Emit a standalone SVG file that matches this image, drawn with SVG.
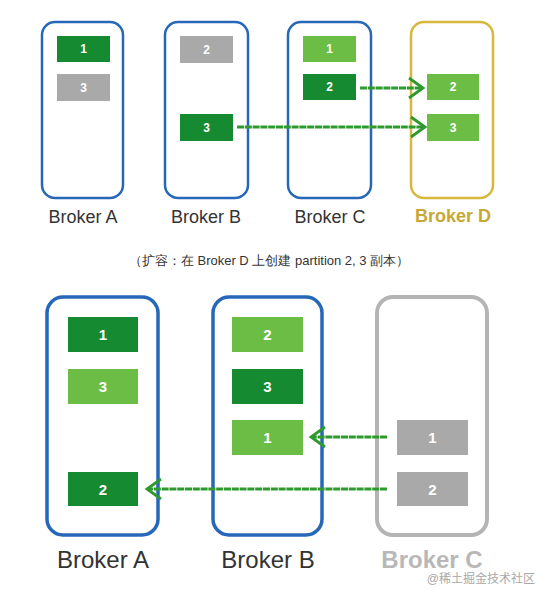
<svg xmlns="http://www.w3.org/2000/svg" width="551" height="597" viewBox="0 0 551 597">
<style>
.box{fill:#fff;stroke:#2767b8;stroke-width:2.5}
.boxL{fill:#fff;stroke:#2767b8;stroke-width:3.5}
.dk{fill:#168a30}
.lt{fill:#6cbd45}
.gr{fill:#a9a9a9}
.n{font-family:"Liberation Sans",Arial,sans-serif;font-weight:bold;fill:#fff;text-anchor:middle}
.s{font-size:12px}
.b{font-size:15px}
.lab{font-family:"Liberation Sans",Arial,sans-serif;text-anchor:middle;fill:#333}
.arr{fill:none;stroke:#2e9a2e;stroke-width:2.8;stroke-dasharray:7 0.8}
</style>
<defs>
<marker id="ah" markerUnits="userSpaceOnUse" markerWidth="24" markerHeight="24" refX="17" refY="12" orient="auto">
<path d="M3,2 L17,12 L3,22" fill="none" stroke="#2e9a2e" stroke-width="2.8"/>
</marker>
</defs>
<rect width="551" height="597" fill="#fff"/>
<g id="brokerA-top">
<rect class="box" x="42" y="22" width="81" height="176" rx="13"/>
<rect class="dk" x="57" y="36" width="53" height="26"/><text class="n s" x="83.5" y="53">1</text>
<rect class="gr" x="57" y="74" width="53" height="27"/><text class="n s" x="83.5" y="92">3</text>
<text class="lab" x="83" y="223" font-size="18">Broker A</text>
</g>
<g id="brokerB-top">
<rect class="box" x="165" y="22" width="83" height="176" rx="13"/>
<rect class="gr" x="180" y="36" width="53" height="27"/><text class="n s" x="206.5" y="54">2</text>
<rect class="dk" x="180" y="114" width="53" height="27"/><text class="n s" x="206.5" y="132">3</text>
<text class="lab" x="206" y="223" font-size="18">Broker B</text>
</g>
<g id="brokerC-top">
<rect class="box" x="288" y="22" width="83" height="176" rx="13"/>
<rect class="lt" x="303" y="36" width="53" height="26"/><text class="n s" x="329.5" y="53">1</text>
<rect class="dk" x="303" y="74" width="53" height="26"/><text class="n s" x="329.5" y="91">2</text>
<text class="lab" x="330" y="223" font-size="18">Broker C</text>
</g>
<g id="brokerD-top">
<rect x="411" y="22" width="82" height="176" rx="13" fill="#fff" stroke="#d6b93c" stroke-width="2.5"/>
<rect class="lt" x="427" y="74" width="52" height="26"/><text class="n s" x="453" y="91">2</text>
<rect class="lt" x="427" y="114" width="52" height="27"/><text class="n s" x="453" y="132">3</text>
<text class="lab" x="453" y="222" font-size="18" font-weight="bold" style="fill:#c8a834">Broker D</text>
</g>
<g id="caption">
<text class="lab" x="269" y="265" font-size="13" font-family="'Liberation Sans','Noto Sans CJK SC',sans-serif">（扩容：在 Broker D 上创建 partition 2, 3 副本）</text>
</g>
<g id="brokerA-bottom">
<rect class="boxL" x="47" y="297" width="111" height="238" rx="16"/>
<rect class="dk" x="68" y="317" width="70" height="35"/><text class="n b" x="103" y="340">1</text>
<rect class="lt" x="68" y="369" width="70" height="35"/><text class="n b" x="103" y="392">3</text>
<rect class="dk" x="68" y="472" width="70" height="34"/><text class="n b" x="103" y="495">2</text>
<text class="lab" x="103" y="568" font-size="24">Broker A</text>
</g>
<g id="brokerB-bottom">
<rect class="boxL" x="213" y="297" width="109" height="238" rx="16"/>
<rect class="lt" x="232" y="317" width="71" height="35"/><text class="n b" x="267.5" y="340">2</text>
<rect class="dk" x="232" y="369" width="71" height="35"/><text class="n b" x="267.5" y="392">3</text>
<rect class="lt" x="232" y="420" width="71" height="35"/><text class="n b" x="267.5" y="443">1</text>
<text class="lab" x="268" y="568" font-size="24">Broker B</text>
</g>
<g id="brokerC-bottom">
<rect x="377" y="297" width="110" height="238" rx="16" fill="#fff" stroke="#b4b4b4" stroke-width="4"/>
<rect class="gr" x="397" y="420" width="71" height="35"/><text class="n b" x="432.5" y="443">1</text>
<rect class="gr" x="397" y="472" width="71" height="34"/><text class="n b" x="432.5" y="495">2</text>
<text class="lab" x="432" y="568" font-size="24" font-weight="bold" style="fill:#b8b8b8">Broker C</text>
</g>
<g id="connectors">
<line class="arr" x1="360" y1="88" x2="423" y2="88" marker-end="url(#ah)"/>
<line class="arr" x1="237" y1="127" x2="425" y2="127" marker-end="url(#ah)"/>
<line class="arr" x1="387" y1="437" x2="311" y2="437" marker-end="url(#ah)"/>
<line class="arr" x1="387" y1="489" x2="147" y2="489" marker-end="url(#ah)"/>
</g>
<text x="535" y="583" font-size="12" text-anchor="end" fill="#a8a8a8" font-family="'Liberation Sans','Noto Sans CJK SC',sans-serif">@稀土掘金技术社区</text>
</svg>
